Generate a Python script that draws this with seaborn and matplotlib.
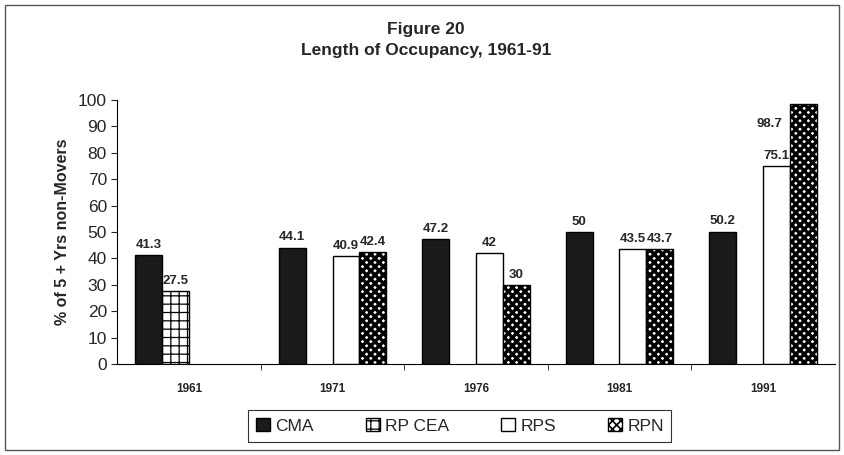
import numpy as np
import pandas as pd
import matplotlib
matplotlib.use('Agg')
import matplotlib.pyplot as plt
import seaborn as sns
from matplotlib.patches import Rectangle

# data
years = ['1961', '1971', '1976', '1981', '1991']
series = ['CMA', 'RP CEA', 'RPS', 'RPN']
cma = [41.3, 44.1, 47.2, 50, 50.2]
rp_cea = [27.5, np.nan, np.nan, np.nan, np.nan]
rps = [np.nan, 40.9, 42, 43.5, 75.1]
rpn = [np.nan, 42.4, 30, 43.7, 98.7]

rows = []
for name, vals in zip(series, [cma, rp_cea, rps, rpn]):
    for y, v in zip(years, vals):
        rows.append({'year': y, 'series': name, 'value': v})
df = pd.DataFrame(rows)

sns.set_style('white')
plt.rcParams['font.family'] = ['Liberation Sans', 'DejaVu Sans']
plt.rcParams['hatch.linewidth'] = 2.4

fig = plt.figure(figsize=(8.44, 4.55), dpi=100)
ax = fig.add_axes([0.139, 0.2, 0.85, 0.58])

sns.barplot(data=df, x='year', y='value', hue='series', order=years, hue_order=series,
            palette=['#1a1a1a', 'white', 'white', 'white'], edgecolor='black', linewidth=1,
            width=0.75, gap=0, legend=False, ax=ax)

hatches = [None, '++', None, 'xxxx']
hatch_lw = [None, 0.9, None, 2.4]
for cont, h, hl in zip(ax.containers, hatches, hatch_lw):
    for p in cont.patches:
        if h:
            p.set_hatch(h)
            if hasattr(p, 'set_hatch_linewidth'):
                p.set_hatch_linewidth(hl)

# value labels
for i, cont in enumerate(ax.containers):
    labels = [f'{p.get_height():g}' for p in cont.patches]
    lab = ax.bar_label(cont, labels=labels, padding=3, fontsize=9.5, fontweight='bold')
    if i == 3:
        # the 1991 RPN label sits to the left of its bar in the original
        for t, p in zip(lab, cont.patches):
            if p.get_height() > 90:
                t.set_visible(False)
                ax.annotate(f'{p.get_height():g}', (p.get_x() - p.get_width() * 0.75, p.get_height() - 10),
                            ha='center', va='bottom', fontsize=9.5, fontweight='bold')

ax.set_ylim(0, 100)
ax.set_xlim(-0.5, 4.5)
ax.set_yticks(range(0, 101, 10))
ax.tick_params(axis='y', labelsize=12.5, length=4, direction='out', left=True, width=0.8)
ax.tick_params(axis='x', labelsize=8.5, length=0, pad=14)
for t in ax.get_xticklabels():
    t.set_fontweight('bold')
ax.set_xticks(np.arange(0.5, 4.5, 1), minor=True)
ax.tick_params(axis='x', which='minor', length=4, bottom=True, direction='out')
ax.set_xlabel('')
ax.set_ylabel('% of 5 + Yrs non-Movers', fontsize=11.5, fontweight='bold', labelpad=6)
sns.despine(ax=ax)
for s in ['left', 'bottom']:
    ax.spines[s].set_color('black')
    ax.spines[s].set_linewidth(0.8)

fig.text(0.505, 0.913, 'Figure 20\nLength of Occupancy, 1961-91', ha='center', va='center',
         fontsize=12.5, fontweight='bold', linespacing=1.5)

leg = fig.legend(handles=list(ax.containers), labels=series, loc='center',
                 bbox_to_anchor=(0.545, 0.064), ncol=4, fontsize=12.5, frameon=True,
                 fancybox=False, edgecolor='black', handlelength=0.8, handleheight=0.8,
                 handletextpad=0.3, columnspacing=3.0, borderpad=0.45)
leg.get_frame().set_linewidth(0.8)
for hnd, hl in zip(leg.legend_handles, hatch_lw):
    if hl and hasattr(hnd, 'set_hatch_linewidth'):
        hnd.set_hatch_linewidth(min(hl, 1.2))

fig.patches.append(Rectangle((0.006, 0.01), 0.988, 0.98, transform=fig.transFigure,
                             fill=False, edgecolor='#555555', linewidth=1))

fig.savefig('out.png', dpi=100)
